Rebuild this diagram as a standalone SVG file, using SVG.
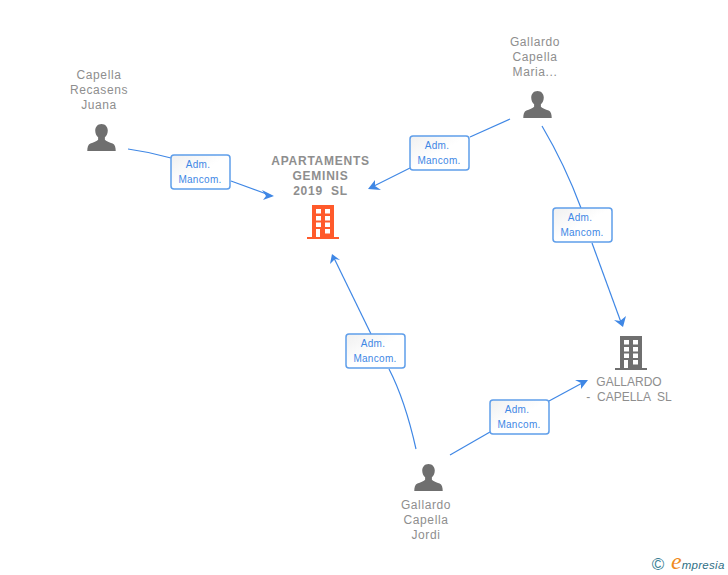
<svg xmlns="http://www.w3.org/2000/svg" width="728" height="575" viewBox="0 0 728 575">
<style>
text{font-family:"Liberation Sans",Arial,sans-serif;font-size:12px;fill:#8e8e8e;text-anchor:middle;letter-spacing:.6px;white-space:pre}
.b{font-weight:bold;letter-spacing:.75px}
.u{letter-spacing:0}
.e{fill:#3f87e5;font-size:10px;letter-spacing:.3px}
.c{fill:none;stroke:#3f87e5;stroke-width:1.2}
.h{fill:#3f87e5}
.l{fill:url(#g);stroke:#5f9eea;stroke-width:1.5}
</style>
<defs>
<linearGradient id="g" x1="0" y1="0" x2="1" y2="1"><stop offset="0" stop-color="#f0f0f0"/><stop offset=".5" stop-color="#fff"/></linearGradient>
<symbol id="p" viewBox="0 0 30 30" overflow="visible"><path fill="#6f6f6f" d="M15 1c-4 0-6.500 3-6.500 6.800 0 3 1.200 5.400 3 7v2.400c-1 1.400-5 2.600-8 4-2.400 1.200-3.200 3.800-3.200 7.800h29.400c0-4-.8-6.600-3.200-7.800-3-1.400-7-2.600-8-4v-2.400c1.800-1.600 3-4 3-7C21.500 4 19 1 15 1z"/></symbol>
<symbol id="o" viewBox="0 0 32 34" overflow="visible"><path fill-rule="evenodd" d="M5 0h22v32h5v2H0v-2h5zM9 4v4.500h5V4zm9 0v4.500h5V4zM9 11v4.500h5V11zm9 0v4.500h5V11zM9 17.500v4.500h5v-4.500zm9 0v4.500h5v-4.500zM9 24v8h4v-8zm9 0v4.500h5V24z"/></symbol>
</defs>
<g id="connectors">
<path class="c" d="M128 149Q150 152 171 158"/><path class="c" d="M231 181L272 196"/>
<path class="h" d="M274 196L263 200L266 196L262 190Z"/>
<path class="c" d="M510 119L470 137"/><path class="c" d="M410 168L370 188"/>
<path class="h" d="M368 189L375 180L375 186L381 190Z"/>
<path class="c" d="M542 126Q565 165 581 208"/><path class="c" d="M592 243L622 325"/>
<path class="h" d="M623 327L614 320L620 321L626 316Z"/>
<path class="c" d="M416 449Q405 400 389 369"/><path class="c" d="M371 334L333 256"/>
<path class="h" d="M332 254L340 260L335 259L330 264Z"/>
<path class="c" d="M450 455L490 432"/><path class="c" d="M549 401L586 381"/>
<path class="h" d="M588 380L581 389L581 383L575 380Z"/>
</g>
<g id="n1"><use href="#p" x="87" y="123" width="29" height="29"/><text x="99" y="79">Capella</text><text x="99" y="94">Recasens</text><text x="99" y="109">Juana</text></g>
<g id="n2"><text class="b" x="320.500" y="165">APARTAMENTS</text><text class="b" x="320.500" y="180">GEMINIS</text><text class="b" x="320.500" y="195">2019  SL</text><use href="#o" x="307" y="205" width="32" height="34" fill="#ff5a2b"/></g>
<g id="n3"><text x="535" y="46">Gallardo</text><text x="535" y="61">Capella</text><text x="535" y="76">Maria...</text><use href="#p" x="523" y="90" width="29" height="29"/></g>
<g id="n4"><use href="#o" x="615" y="336" width="32" height="34" fill="#6f6f6f"/><text class="u" x="629" y="386">GALLARDO</text><text class="u" x="629" y="401">-  CAPELLA  SL</text></g>
<g id="n5"><use href="#p" x="414" y="463" width="29" height="29"/><text x="426" y="509">Gallardo</text><text x="426" y="524">Capella</text><text x="426" y="539">Jordi</text></g>
<g id="e1"><rect class="l" x="171" y="155" width="59" height="34" rx="3"/><text class="e" x="198" y="168">Adm.</text><text class="e" x="200" y="183">Mancom.</text></g>
<g id="e2"><rect class="l" x="410" y="136" width="59" height="34" rx="3"/><text class="e" x="437" y="149">Adm.</text><text class="e" x="439" y="164">Mancom.</text></g>
<g id="e3"><rect class="l" x="553" y="208" width="59" height="34" rx="3"/><text class="e" x="580" y="221">Adm.</text><text class="e" x="582" y="236">Mancom.</text></g>
<g id="e4"><rect class="l" x="346" y="334" width="59" height="34" rx="3"/><text class="e" x="373" y="347">Adm.</text><text class="e" x="375" y="362">Mancom.</text></g>
<g id="e5"><rect class="l" x="490" y="400" width="59" height="34" rx="3"/><text class="e" x="517" y="413">Adm.</text><text class="e" x="519" y="428">Mancom.</text></g>
<g id="logo"><text x="658" y="570" style="font-size:17px;fill:#3a7f95;letter-spacing:0">©</text><text x="671" y="569" style="text-anchor:start;font-style:italic;font-size:11.500px;fill:#2f6f86;letter-spacing:.3px"><tspan style="font-family:'Liberation Serif',serif;font-size:24px;fill:#f08a1d;letter-spacing:0">e</tspan>mpresia</text></g>
</svg>
